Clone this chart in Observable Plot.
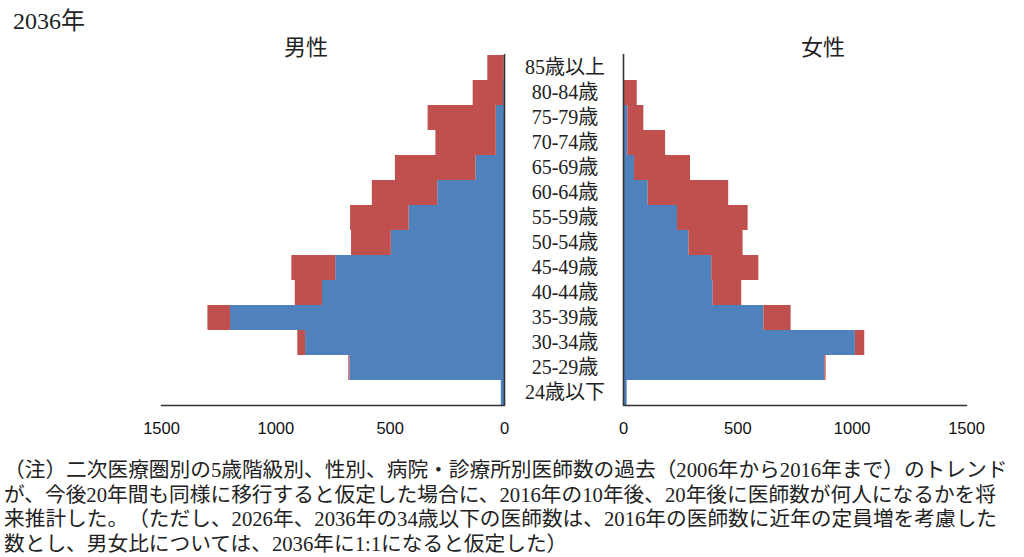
<!DOCTYPE html>
<html>
<head>
<meta charset="utf-8">
<script src="https://cdn.jsdelivr.net/npm/d3@7"></script>
<script src="https://cdn.jsdelivr.net/npm/@observablehq/plot@0.6"></script>
<style>
  body { margin: 0; background: #fff; }
  #page {
    position: relative; width: 1024px; height: 557px; overflow: hidden;
    font-family: "Liberation Serif", "Noto Sans CJK JP", serif; color: #222;
    text-spacing-trim: space-all;
  }
  #page svg { overflow: visible; }
  .abs { position: absolute; white-space: pre; }
  #year { left: 13px; top: 7px; font-size: 24px; line-height: 28px; }
  .sex { font-size: 22px; line-height: 26px; top: 35px; transform: translateX(-50%); }
  #male-title { left: 306px; }
  #female-title { left: 823px; }
  #male-chart { left: 0; top: 0; }
  #female-chart { left: 612px; top: 0; }
  #note { left: 4px; top: 458px; font-size: 20.7px; line-height: 24.5px; }
</style>
</head>
<body>
<div id="page">
  <div class="abs" id="year">2036年</div>
  <div class="abs sex" id="male-title">男性</div>
  <div class="abs sex" id="female-title">女性</div>
  <div class="abs" id="male-chart"></div>
  <div class="abs" id="female-chart"></div>
  <div class="abs" id="note"></div>
</div>
<script>
// Age groups, oldest at the top
const ages = ["85歳以上", "80-84歳", "75-79歳", "70-74歳", "65-69歳", "60-64歳", "55-59歳",
              "50-54歳", "45-49歳", "40-44歳", "35-39歳", "30-34歳", "25-29歳", "24歳以下"];

// Two stacked series: hospital doctors (inner, blue) and clinic doctors (outer, red)
const kinds = ["病院", "診療所"];
const kindColors = ["#4F81BD", "#C0504D"];

// Projected number of doctors in 2036
const maleHospital   = [2, 4, 36, 36, 125, 292, 417, 495, 738, 796, 1198, 870, 676, 14];
const maleClinic     = [71, 133, 298, 264, 352, 286, 256, 174, 192, 119, 99, 34, 5, 0];
const femaleHospital = [1, 2, 19, 19, 48, 108, 236, 286, 386, 392, 614, 1014, 880, 16];
const femaleClinic   = [2, 58, 70, 165, 245, 352, 309, 237, 206, 125, 119, 41, 6, 0];

const xTicks = [0, 500, 1000, 1500];

const noteLines = [
  "（注）二次医療圏別の5歳階級別、性別、病院・診療所別医師数の過去（2006年から2016年まで）のトレンド",
  "が、今後20年間も同様に移行すると仮定した場合に、2016年の10年後、20年後に医師数が何人になるかを将",
  "来推計した。（ただし、2026年、2036年の34歳以下の医師数は、2016年の医師数に近年の定員増を考慮した",
  "数とし、男女比については、2036年に1:1になると仮定した）"
];

function rowsFor(hospital, clinic) {
  const rows = [];
  ages.forEach((age, i) => rows.push({age, kind: kinds[0], value: hospital[i]}));
  ages.forEach((age, i) => rows.push({age, kind: kinds[1], value: clinic[i]}));
  return rows;
}

const tickFont = {fontFamily: "Liberation Sans, Arial, sans-serif", fontSize: 16.5};

function side({hospital, clinic, reverse, width, marginLeft, marginRight, withLabels}) {
  const marks = [
    Plot.barX(rowsFor(hospital, clinic), {x: "value", y: "age", fill: "kind", order: kinds}),
    Plot.ruleX([0], {stroke: "#333", strokeWidth: 1.6}),
    Plot.frame({anchor: "bottom", stroke: "#333", strokeWidth: 1.4}),
    Plot.axisX({ticks: xTicks, tickSize: 0, tickPadding: 17, tickFormat: d => String(d),
                label: null, fill: "#111", ...tickFont}),
  ];
  if (withLabels) {
    marks.push(Plot.axisY({anchor: "right", tickSize: 0, tickPadding: 0, dx: 60.5,
                           textAnchor: "middle", label: null, fontSize: 20, fill: "#222",
                           fontFamily: "Liberation Serif, Noto Sans CJK JP, serif"}));
  } else {
    marks.push(Plot.axisY({ticks: [], label: null}));
  }
  return Plot.plot({
    width, height: 440,
    marginTop: 54, marginBottom: 35, marginLeft, marginRight,
    style: {background: "transparent", overflow: "visible"},
    x: {domain: [0, 1500], reverse},
    y: {domain: ages, padding: 0},
    color: {domain: kinds, range: kindColors},
    marks
  });
}

document.getElementById("male-chart").append(side({
  hospital: maleHospital, clinic: maleClinic, reverse: true,
  width: 623, marginLeft: 161, marginRight: 119, withLabels: true
}));

document.getElementById("female-chart").append(side({
  hospital: femaleHospital, clinic: femaleClinic, reverse: false,
  width: 379, marginLeft: 11, marginRight: 25, withLabels: false
}));

document.getElementById("note").textContent = noteLines.join("\n");
</script>
</body>
</html>
